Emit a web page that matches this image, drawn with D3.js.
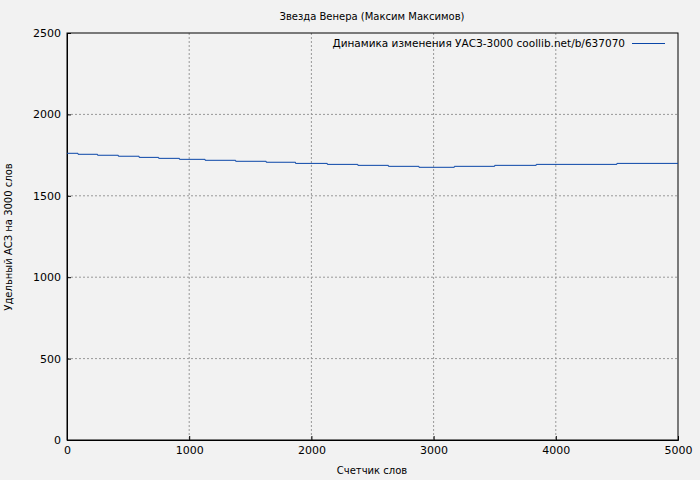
<!DOCTYPE html>
<html><head><meta charset="utf-8">
<script src="https://cdn.jsdelivr.net/npm/d3@7"></script>
<style>body{margin:0;background:#f2f2f2}text{font-family:"DejaVu Sans",sans-serif}</style>
</head><body><svg width="700" height="480"></svg>
<script>
const stepX = [0, 90, 250, 420, 590, 750, 920, 1130, 1380, 1630, 1870, 2130, 2380, 2630, 2880, 3170, 3500, 3840, 4500, 5000];
const stepY = [1761, 1755, 1749, 1743, 1736, 1730, 1724, 1718, 1712, 1706, 1699, 1693, 1687, 1681, 1675, 1681, 1687, 1693, 1699, 1699];
const xTicks = [0, 1000, 2000, 3000, 4000, 5000];
const yTicks = [0, 500, 1000, 1500, 2000, 2500];

const svg = d3.select('svg');
const m = {l: 67, r: 678, t: 33, b: 440};
const x = d3.scaleLinear().domain([0, 5000]).range([m.l, m.r]);
const y = d3.scaleLinear().domain([0, 2500]).range([m.b, m.t]);

svg.append('rect').attr('width', 700).attr('height', 480).attr('fill', '#f2f2f2');

const grid = svg.append('g').attr('stroke', '#999').attr('stroke-dasharray', '2,2');
xTicks.slice(1, -1).forEach(t => grid.append('line').attr('x1', x(t)).attr('x2', x(t)).attr('y1', m.t).attr('y2', m.b));
yTicks.slice(1, -1).forEach(t => grid.append('line').attr('x1', m.l).attr('x2', m.r).attr('y1', y(t)).attr('y2', y(t)));

svg.append('g').attr('transform', `translate(0,${m.b})`)
  .call(d3.axisBottom(x).tickValues(xTicks).tickFormat(d3.format('d')).tickSize(-4).tickPadding(6))
  .call(g => g.selectAll('text').attr('font-size', 11));
svg.append('g').attr('transform', `translate(${m.l},0)`)
  .call(d3.axisLeft(y).tickValues(yTicks).tickFormat(d3.format('d')).tickSize(-4).tickPadding(6))
  .call(g => g.selectAll('text').attr('font-size', 11));
svg.append('rect').attr('x', m.l).attr('y', m.t).attr('width', m.r - m.l).attr('height', m.b - m.t)
  .attr('fill', 'none').attr('stroke', '#000');

const pts = stepX.map((d, i) => [d, stepY[i]]);
svg.append('path').datum(pts).attr('fill', 'none').attr('stroke', '#0a46a8').attr('stroke-width', 1)
  .attr('d', d3.line().x(d => x(d[0])).y(d => y(d[1])).curve(d3.curveStepAfter));

svg.append('text').attr('x', 372).attr('y', 20).attr('text-anchor', 'middle').attr('font-size', 10).text('Звезда Венера (Максим Максимов)');
svg.append('text').attr('x', 625).attr('y', 47).attr('text-anchor', 'end').attr('font-size', 10.5).text('Динамика изменения УАСЗ-3000 coollib.net/b/637070');
svg.append('line').attr('x1', 632).attr('x2', 665).attr('y1', 43.5).attr('y2', 43.5).attr('stroke', '#0a46a8');
svg.append('text').attr('x', 372).attr('y', 474).attr('text-anchor', 'middle').attr('font-size', 10).text('Счетчик слов');
svg.append('text').attr('transform', 'translate(12,237) rotate(-90)').attr('text-anchor', 'middle').attr('font-size', 10).text('Удельный АСЗ на 3000 слов');
</script></body></html>
